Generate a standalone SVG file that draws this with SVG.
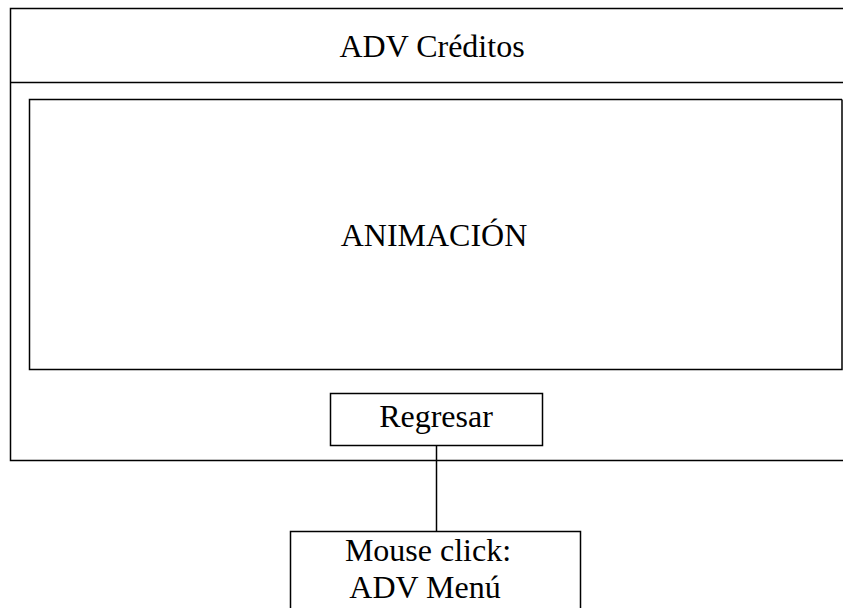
<svg xmlns="http://www.w3.org/2000/svg" width="843" height="608" viewBox="0 0 843 608">
<style>
.b{fill:none;stroke:#000;stroke-width:1.5}
.t{font-family:"Liberation Serif",serif;font-size:32px;fill:#000;text-anchor:middle}
</style>
<rect width="843" height="608" fill="#fff"/>
<g id="frame">
<path class="b" d="M845 8.5H10.5V460.5H845"/>
<path class="b" d="M10.5 82.5H845"/>
<text class="t" x="432" y="57">ADV Créditos</text>
</g>
<g id="animacion">
<path class="b" d="M842 99.5H29.5V369.5H842V99.5"/>
<text class="t" x="434" y="246">ANIMACIÓN</text>
</g>
<g id="regresar">
<rect class="b" x="330.5" y="393.5" width="212" height="52"/>
<text class="t" x="436" y="427">Regresar</text>
</g>
<g id="connectors">
<line class="b" x1="436.5" y1="445.5" x2="436.5" y2="531.5"/>
</g>
<g id="mouseclick">
<rect class="b" x="290.5" y="531.5" width="290" height="90"/>
<text class="t" x="428" y="561">Mouse click:</text>
<text class="t" x="425" y="598">ADV Menú</text>
</g>
</svg>
